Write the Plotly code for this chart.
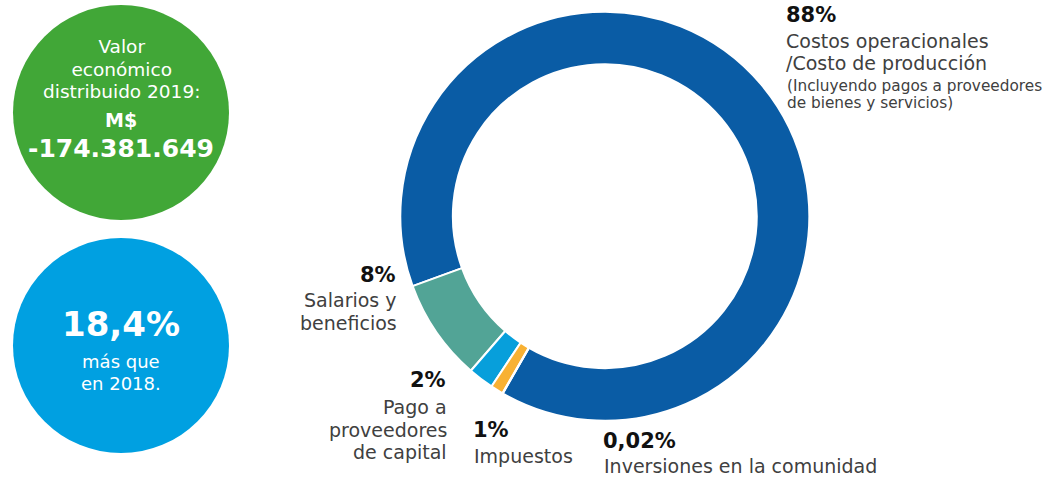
import plotly.graph_objects as go

W, H = 1048, 478

# ---- data ----
categories = ["Costos operacionales", "Salarios y beneficios", "Pago a proveedores de capital",
              "Impuestos", "Inversiones en la comunidad"]
values = [88, 8, 2, 1, 0.02]
pct_labels = ["88%", "8%", "2%", "1%", "0,02%"]
colors = ["#0a5ca5", "#52a496", "#079fdb", "#f8b133", "#0a5ca5"]

desc_lines = [
    ["Costos operacionales", "/Costo de producción"],
    ["Salarios y", "beneficios"],
    ["Pago a", "proveedores", "de capital"],
    ["Impuestos"],
    ["Inversiones en la comunidad"],
]
note_lines = ["(Incluyendo pagos a proveedores", "de bienes y servicios)"]

total_title = ["Valor", "económico", "distribuido 2019:"]
total_unit = "M$"
total_value = "-174.381.649"
growth_value = "18,4%"
growth_text = ["más que", "en 2018."]

FONT = "DejaVu Sans"

def px(x):
    return x / W

def py(y):
    return 1 - y / H

fig = go.Figure()

cx, cy, r = 604.8, 216.2, 204.5
fig.add_trace(go.Pie(
    labels=categories, values=values, sort=False, direction="counterclockwise",
    rotation=250, hole=0.743, textinfo="none",
    marker=dict(colors=colors, line=dict(color="white", width=2)),
    domain=dict(x=[px(cx - r), px(cx + r)], y=[py(cy + r), py(cy - r)]),
    showlegend=False,
))

ann = []

def add(text, x, y, size, color="#404040", bold=False, xanchor="left"):
    ann.append(dict(text=text, x=px(x), y=py(y), xref="paper", yref="paper",
                    xanchor=xanchor, yanchor="middle", showarrow=False,
                    font=dict(family=FONT, size=size, color=color,
                              weight="bold" if bold else "normal")))

def add_block(lines, x, y, glyph_size, line_gap, color="white"):
    # line spacing in plotly = 1.3 * base font size; glyphs drawn at glyph_size
    base = line_gap / 1.3
    text = "<br>".join(f"<span style='font-size:{glyph_size}px'>{t}</span>" for t in lines)
    ann.append(dict(text=text, x=px(x), y=py(y), xref="paper", yref="paper",
                    xanchor="center", yanchor="middle", showarrow=False, align="center",
                    font=dict(family=FONT, size=base, color=color)))

# circles
shapes = [
    dict(type="circle", xref="paper", yref="paper", x0=px(13), x1=px(229),
         y0=py(220), y1=py(5), fillcolor="#41a737", line=dict(width=0), layer="below"),
    dict(type="circle", xref="paper", yref="paper", x0=px(13), x1=px(229),
         y0=py(453), y1=py(238), fillcolor="#00a0e1", line=dict(width=0), layer="below"),
]

# green circle text
add_block(total_title, 121, 69, 18.5, 22.5)
add(total_unit, 121, 120, 19, color="white", bold=True, xanchor="center")
add(total_value, 121, 148, 25, color="white", bold=True, xanchor="center")

# blue circle text
add(growth_value, 121, 324, 34, color="white", bold=True, xanchor="center")
add_block(growth_text, 121, 372, 18, 21.5)

# slice labels
BLACK = "#111111"
# 88%
add(pct_labels[0], 784, 15, 21, color=BLACK, bold=True)
for t, y in zip(desc_lines[0], [41, 63]):
    add(t, 784, y, 19)
for t, y in zip(note_lines, [86, 103]):
    add(t, 785, y, 15.3)
# 8%
add(pct_labels[1], 398, 275, 21, color=BLACK, bold=True, xanchor="right")
for t, y in zip(desc_lines[1], [300, 323]):
    add(t, 399, y, 19, xanchor="right")
# 2%
add(pct_labels[2], 448, 380, 21, color=BLACK, bold=True, xanchor="right")
for t, y in zip(desc_lines[2], [407, 430, 452]):
    add(t, 449, y, 19, xanchor="right")
# 1%
add(pct_labels[3], 471, 430, 21, color=BLACK, bold=True)
for t, y in zip(desc_lines[3], [456]):
    add(t, 472, y, 19)
# 0,02%
add(pct_labels[4], 601, 441, 21, color=BLACK, bold=True)
for t, y in zip(desc_lines[4], [466]):
    add(t, 602, y, 19)

fig.update_layout(
    width=W, height=H, margin=dict(l=0, r=0, t=0, b=0),
    paper_bgcolor="white", plot_bgcolor="white",
    annotations=ann, shapes=shapes,
)

fig.write_html("out.html", config={"displayModeBar": False},
               post_script="document.body.style.margin='0';")
